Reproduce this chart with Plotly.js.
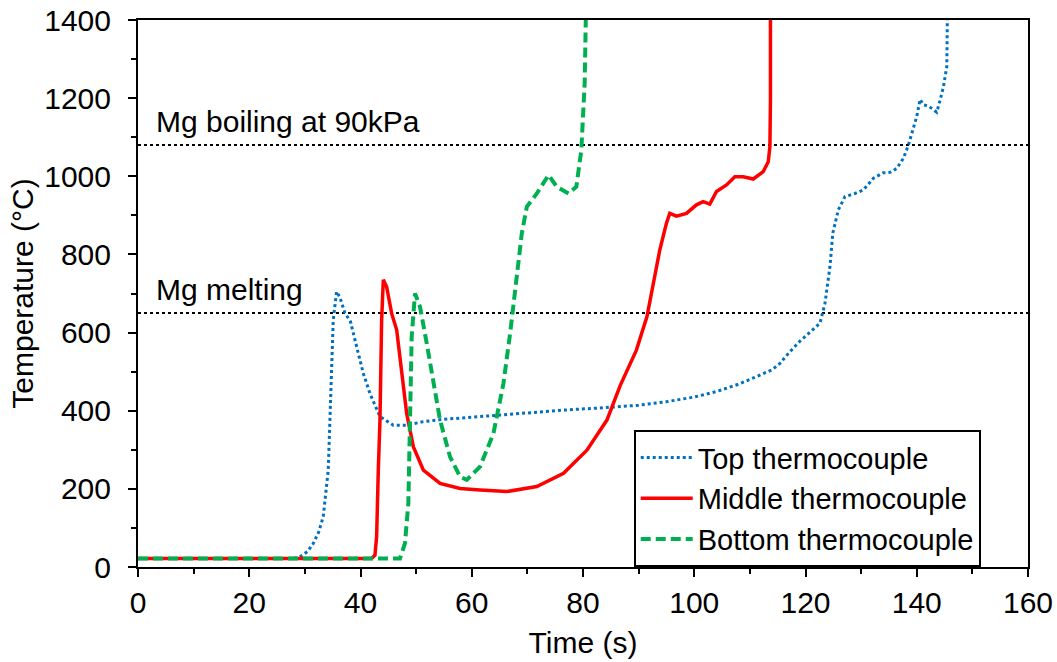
<!DOCTYPE html>
<html>
<head>
<meta charset="utf-8">
<script src="https://cdn.plot.ly/plotly-3.0.1.min.js"></script>
<style>
  html, body { margin: 0; padding: 0; background: #ffffff; }
  #chart { width: 1057px; height: 662px; }
</style>
</head>
<body>
<div id="chart"></div>
<script>
// ---- Data ----
const seriesNames = ["Top thermocouple", "Middle thermocouple", "Bottom thermocouple"];

const topTime = [0, 28, 29.1, 30.5, 31.5, 32.5, 33.3, 34.2, 34.5, 34.8, 35.1, 35.7, 36.3, 37.2, 38.2, 39.3, 40.5, 41.7, 43.5, 45.9, 48.3, 51.3, 55, 61.5, 70, 77, 83, 90, 95, 100, 104, 108, 111.8, 114, 115.4, 117, 119, 121, 122.6, 123.5, 124.4, 124.9, 125.9, 127.1, 128.9, 130.4, 132.2, 134, 135.2, 136.4, 137.6, 138.5, 139.4, 140, 140.6, 141.2, 142.1, 142.7, 143.6, 144.2, 144.8, 145.4, 145.5, 145.5];
const topTemp = [22, 22, 26, 40, 60, 90, 129, 248, 376, 504, 632, 705, 690, 650, 628, 564, 496, 444, 385, 363, 363, 372, 378, 385, 395, 402, 407, 414, 423, 435, 449, 468, 491, 505, 521, 548, 578, 603, 624, 675, 769, 854, 914, 948, 956, 965, 995, 1009, 1010, 1020, 1046, 1080, 1123, 1153, 1197, 1183, 1180, 1174, 1164, 1195, 1229, 1281, 1340, 1400];

const midTime = [0, 42.0, 42.6, 42.9, 43.2, 43.5, 43.8, 44.1, 44.7, 45.6, 46.5, 47.4, 48.3, 49.5, 51.3, 54.3, 57.9, 61.5, 66.3, 71.7, 76.5, 80.7, 84.3, 86.7, 89.6, 91.5, 92.6, 93.8, 95, 95.6, 96.8, 98.6, 100.4, 101.6, 102.8, 104, 105.8, 107.3, 108.8, 110.6, 112.4, 113.3, 113.6, 113.7, 113.7];
const midTemp = [22, 22, 30, 78, 248, 376, 632, 735, 717, 649, 607, 504, 393, 308, 248, 214, 201, 197, 193, 206, 240, 299, 376, 465, 555, 641, 726, 811, 880, 905, 898, 905, 927, 935, 929, 961, 978, 999, 999, 993, 1012, 1037, 1076, 1195, 1400];

const botTime = [0, 47.1, 48, 48.6, 48.9, 49.2, 49.8, 50.7, 51.9, 53.1, 54.3, 56.1, 57.9, 59.1, 61.5, 63.9, 65.7, 66.9, 68.1, 69, 69.9, 71.7, 73.8, 75.3, 77.4, 78.8, 79.7, 80.3, 80.5];
const botTemp = [22, 22, 61, 163, 376, 589, 700, 666, 573, 479, 376, 282, 231, 223, 257, 342, 470, 598, 743, 854, 922, 956, 1003, 973, 956, 973, 1067, 1238, 1400];

const refLevels = [650, 1080];
const refLabels = ["Mg melting", "Mg boiling at 90kPa"];

const xTickVals = [0, 20, 40, 60, 80, 100, 120, 140, 160];
const yTickVals = [0, 200, 400, 600, 800, 1000, 1200, 1400];

// ---- Styling ----
const FONT = "Liberation Sans, Arial, sans-serif";
const FS = 30;

const traces = [
  { x: topTime, y: topTemp, name: seriesNames[0], type: "scatter", mode: "lines",
    line: { color: "#0070C0", width: 3, dash: "dot" } },
  { x: midTime, y: midTemp, name: seriesNames[1], type: "scatter", mode: "lines",
    line: { color: "#FF0000", width: 3.5 } },
  { x: botTime, y: botTemp, name: seriesNames[2], type: "scatter", mode: "lines",
    line: { color: "#00B050", width: 4, dash: "10px,5px" } }
];

const shapes = refLevels.map(v => ({
  type: "line", xref: "paper", yref: "y", x0: 0, x1: 1, y0: v, y1: v,
  line: { color: "#000000", width: 2, dash: "dot" }, layer: "below"
}));

const LABEL_OFFSET = 60;  // label sits just above its reference line
const annotations = refLevels.map((v, i) => ({
  xref: "x", yref: "y", x: 2.9, y: v + LABEL_OFFSET, text: refLabels[i],
  xanchor: "left", yanchor: "middle", showarrow: false,
  font: { family: FONT, size: FS, color: "#000000" }
}));

const layout = {
  width: 1057, height: 662,
  paper_bgcolor: "#ffffff", plot_bgcolor: "#ffffff",
  margin: { l: 138, r: 29, t: 20, b: 95 },
  font: { family: FONT, size: FS, color: "#000000" },
  showlegend: true,
  legend: {
    x: 0.557, y: 0.125, xanchor: "left", yanchor: "middle",
    bgcolor: "#ffffff", bordercolor: "#000000", borderwidth: 2,
    itemwidth: 52,
    font: { family: FONT, size: 29, color: "#000000" },
    tracegroupgap: 0
  },
  xaxis: {
    range: [0, 160], tickvals: xTickVals, ticktext: xTickVals.map(String),
    ticks: "outside", ticklen: 8, tickwidth: 2, tickcolor: "#000000",
    minor: { dtick: 10, ticks: "outside", ticklen: 5, tickwidth: 2, tickcolor: "#000000" },
    showline: true, linecolor: "#000000", linewidth: 2, mirror: true,
    showgrid: false, zeroline: false,
    tickfont: { family: FONT, size: FS, color: "#000000" },
    title: { text: "Time (s)", font: { family: FONT, size: FS, color: "#000000" }, standoff: 14 }
  },
  yaxis: {
    range: [0, 1400], tickvals: yTickVals, ticktext: yTickVals.map(String),
    ticks: "outside", ticklen: 8, tickwidth: 2, tickcolor: "#000000",
    minor: { dtick: 100, ticks: "outside", ticklen: 5, tickwidth: 2, tickcolor: "#000000" },
    showline: true, linecolor: "#000000", linewidth: 2, mirror: true,
    showgrid: false, zeroline: false,
    ticklabelstandoff: 11,
    tickfont: { family: FONT, size: FS, color: "#000000" },
    title: { text: "Temperature (°C)", font: { family: FONT, size: FS, color: "#000000" }, standoff: 2 }
  },
  shapes: shapes,
  annotations: annotations
};

Plotly.newPlot("chart", traces, layout, { displayModeBar: false, staticPlot: true });
</script>
</body>
</html>
